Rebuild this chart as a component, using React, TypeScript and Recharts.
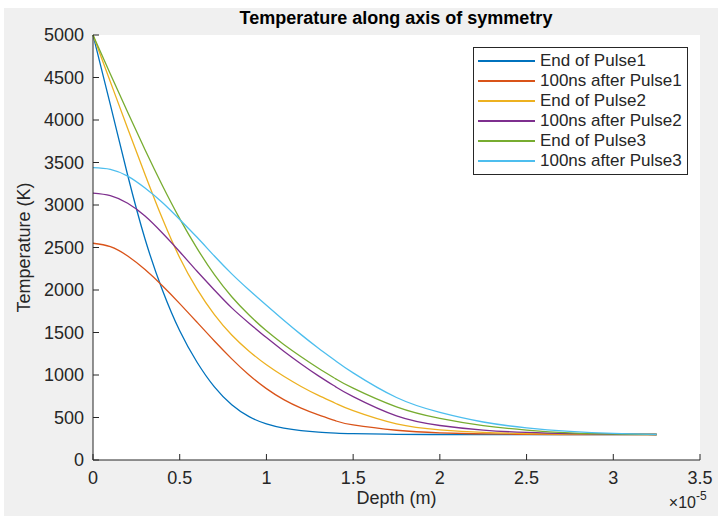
import { CartesianGrid, Line, LineChart, XAxis, YAxis } from "recharts";

// depth in units of 1e-5 m
const DEPTH = [0, 0.1, 0.2, 0.3, 0.4, 0.5, 0.6, 0.7, 0.8, 0.9, 1.0, 1.1, 1.2, 1.3, 1.4, 1.5, 1.75, 2.0, 2.25, 2.5, 2.75, 3.0, 3.25];

const END_PULSE1 = [5000, 4180, 3350, 2600, 2000, 1520, 1150, 860, 650, 510, 425, 375, 345, 327, 317, 311, 302, 300, 300, 300, 300, 300, 300];
const AFTER_PULSE1 = [2550, 2510, 2400, 2240, 2050, 1840, 1620, 1400, 1190, 1000, 840, 710, 610, 530, 460, 412, 350, 320, 307, 302, 300, 300, 300];
const END_PULSE2 = [5000, 4450, 3900, 3360, 2840, 2380, 2010, 1710, 1470, 1280, 1120, 985, 865, 760, 665, 580, 425, 355, 325, 311, 305, 301, 300];
const AFTER_PULSE2 = [3140, 3110, 3020, 2870, 2670, 2450, 2220, 2000, 1790, 1610, 1440, 1280, 1130, 990, 860, 745, 519, 406, 352, 324, 310, 303, 300];
const END_PULSE3 = [5000, 4540, 4090, 3650, 3230, 2840, 2490, 2180, 1920, 1705, 1520, 1360, 1215, 1080, 955, 845, 625, 489, 404, 352, 319, 304, 300];
const AFTER_PULSE3 = [3440, 3420, 3340, 3200, 3030, 2830, 2620, 2400, 2190, 2000, 1820, 1645, 1475, 1315, 1165, 1025, 735, 560, 447, 378, 337, 313, 302];

const X_TICKS = [0, 0.5, 1, 1.5, 2, 2.5, 3, 3.5];
const Y_TICKS = [0, 500, 1000, 1500, 2000, 2500, 3000, 3500, 4000, 4500, 5000];

const SERIES = [
  { key: "p1", name: "End of Pulse1", color: "#0072BD", values: END_PULSE1 },
  { key: "a1", name: "100ns after Pulse1", color: "#D95319", values: AFTER_PULSE1 },
  { key: "p2", name: "End of Pulse2", color: "#EDB120", values: END_PULSE2 },
  { key: "a2", name: "100ns after Pulse2", color: "#7E2F8E", values: AFTER_PULSE2 },
  { key: "p3", name: "End of Pulse3", color: "#77AC30", values: END_PULSE3 },
  { key: "a3", name: "100ns after Pulse3", color: "#4DBEEE", values: AFTER_PULSE3 },
];

const data = DEPTH.map((depth, i) => {
  const row: Record<string, number> = { depth };
  SERIES.forEach((s) => (row[s.key] = s.values[i]));
  return row;
});

const INK = "#262626";
const FONT = '"Liberation Sans", Arial, sans-serif';
const tickStyle = { fill: INK, fontSize: 18, fontFamily: FONT };

function LegendBox() {
  return (
    <div
      style={{
        position: "absolute",
        left: 473,
        top: 47,
        width: 213,
        border: `1px solid ${INK}`,
        background: "#fff",
        padding: "3px 0 3px 0",
        fontFamily: FONT,
        fontSize: 17,
        color: INK,
      }}
    >
      {SERIES.map((s) => (
        <div key={s.key} style={{ display: "flex", alignItems: "center", height: 20 }}>
          <span
            style={{
              display: "inline-block",
              width: 57,
              height: 1.4,
              background: s.color,
              marginLeft: 4,
              marginRight: 5,
            }}
          />
          <span style={{ whiteSpace: "nowrap" }}>{s.name}</span>
        </div>
      ))}
    </div>
  );
}

export default function App() {
  return (
    <div style={{ position: "fixed", left: 0, top: 0, width: 722, height: 516, background: "#fff" }}>
      <div style={{ position: "absolute", left: 4, top: 8, width: 714, height: 508, background: "#f0f0f0" }} />
      <div
        style={{
          position: "absolute",
          left: 246,
          top: 8,
          width: 300,
          whiteSpace: "nowrap",
          display: "flex",
          justifyContent: "center",
          fontFamily: FONT,
          fontWeight: "bold",
          fontSize: 18,
          color: "#000",
        }}
      >
        Temperature along axis of symmetry
      </div>
      <div style={{ position: "absolute", left: 0, top: 0 }}>
        <LineChart width={722} height={516} data={data} margin={{ top: 35, right: 22, bottom: 0, left: 0 }}>
          <CartesianGrid fill="#fff" horizontal={false} vertical={false} />
          <XAxis
            dataKey="depth"
            type="number"
            domain={[0, 3.5]}
            ticks={X_TICKS}
            height={56}
            stroke={INK}
            tickSize={-6}
            tickMargin={17}
            tick={tickStyle}
            interval={0}
            label={{
              content: ({ viewBox }: any) => (
                <g fontFamily={FONT} fill={INK}>
                  <text x={viewBox.x + viewBox.width / 2} y={viewBox.y + 44} textAnchor="middle" fontSize={18}>
                    Depth (m)
                  </text>
                  <text x={viewBox.x + viewBox.width - 4} y={viewBox.y + 48} textAnchor="end" fontSize={16}>
                    ×10
                  </text>
                  <text x={viewBox.x + viewBox.width - 4} y={viewBox.y + 40} textAnchor="start" fontSize={12}>
                    -5
                  </text>
                </g>
              ),
            }}
          />
          <YAxis
            type="number"
            domain={[0, 5000]}
            ticks={Y_TICKS}
            width={93}
            stroke={INK}
            tickSize={-6}
            tickMargin={15}
            tick={tickStyle}
            interval={0}
            label={{
              content: ({ viewBox }: any) => (
                <text
                  x={viewBox.x + 24}
                  y={viewBox.y + viewBox.height / 2}
                  transform={`rotate(-90 ${viewBox.x + 24} ${viewBox.y + viewBox.height / 2})`}
                  textAnchor="middle"
                  dominantBaseline="central"
                  fontFamily={FONT}
                  fontSize={18}
                  fill={INK}
                >
                  Temperature (K)
                </text>
              ),
            }}
          />
          {SERIES.map((s) => (
            <Line
              key={s.key}
              dataKey={s.key}
              name={s.name}
              type="natural"
              stroke={s.color}
              strokeWidth={1.3}
              dot={false}
              isAnimationActive={false}
            />
          ))}
        </LineChart>
      </div>
      <LegendBox />
    </div>
  );
}
